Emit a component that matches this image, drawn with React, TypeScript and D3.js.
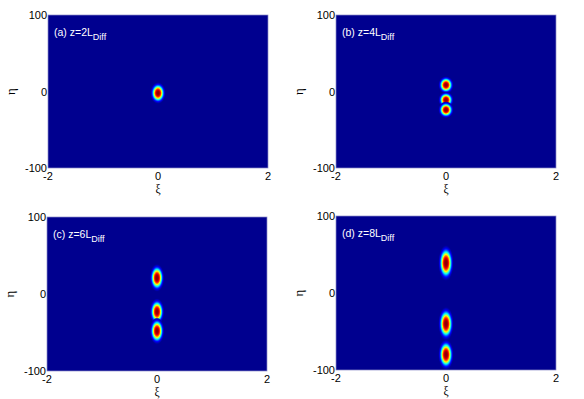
import * as d3 from "d3";

// blob data, one list per panel
const zSteps = [2, 4, 6, 8];
const panelTags = ["(a)", "(b)", "(c)", "(d)"];
const blobEta = [[-2], [8.5, -11, -24], [21, -23, -48], [39, -40, -80]];
const blobXi = [[0], [0, 0, 0], [0, 0, 0], [0, 0, 0]];
const blobHalfXi = [[0.11], [0.11, 0.11, 0.11], [0.105, 0.105, 0.105], [0.11, 0.11, 0.11]];
const blobHalfEta = [[11], [9, 8.5, 8.5], [14, 13.5, 13.5], [18, 17, 15.5]];
const xTicks = [-2, 0, 2];
const yTicks = [-100, 0, 100];

const frames = [
  { x0: 48, x1: 268, y0: 15, y1: 168 },
  { x0: 336, x1: 556, y0: 15, y1: 168 },
  { x0: 47, x1: 267, y0: 217, y1: 371 },
  { x0: 336, x1: 556, y0: 216, y1: 370 },
];

// matlab-like jet
const jet = (v: number) => {
  const x = 1 / 64 + v * (62 / 64);
  const c = (t: number) => Math.max(0, Math.min(1, 1.5 - Math.abs(4 * x - t)));
  return d3.rgb(c(3) * 255, c(2) * 255, c(1) * 255).formatHex();
};

const profile = (r: number) => Math.exp(-4.2 * Math.pow(r, 3));
const stops = d3.range(0, 1.0001, 0.04).map((r) => ({ off: r, v: profile(r) }));

const Panel = ({ i }: { i: number }) => {
  const f = frames[i];
  const x = d3.scaleLinear().domain([-2, 2]).range([f.x0, f.x1]);
  const y = d3.scaleLinear().domain([-100, 100]).range([f.y1, f.y0]);
  const font = "'Liberation Sans', Arial, sans-serif";
  return (
    <g>
      <rect x={f.x0} y={f.y0} width={f.x1 - f.x0} height={f.y1 - f.y0} fill="#00008F" />
      {blobEta[i].map((eta, k) => {
        const rx = (x(blobHalfXi[i][k]) - x(0)) * 1.28;
        const ry = (y(0) - y(blobHalfEta[i][k])) * 1.28;
        return (
          <ellipse key={k} cx={x(blobXi[i][k])} cy={y(eta)} rx={rx} ry={ry} fill="url(#blob)" />
        );
      })}
      <rect x={f.x0} y={f.y0} width={f.x1 - f.x0} height={f.y1 - f.y0} fill="none" stroke="#8c8cc8" strokeWidth={0.7} />
      <text x={f.x0 + 6} y={f.y0 + 21} fill="#fff" fontFamily={font} fontSize={10.5}>
        {panelTags[i]} z={zSteps[i]}L
        <tspan dy={4} fontSize={9}>Diff</tspan>
      </text>
      {yTicks.map((t) => (
        <text key={t} x={f.x0 - 1} y={y(t) + 4} textAnchor="end" fontFamily={font} fontSize={11} fill="#000">
          {t}
        </text>
      ))}
      {xTicks.map((t) => (
        <text key={t} x={x(t)} y={f.y1 + 12} textAnchor="middle" fontFamily={font} fontSize={11} fill="#000">
          {t}
        </text>
      ))}
      <text
        transform={`translate(${f.x0 - 33},${(f.y0 + f.y1) / 2}) rotate(-90)`}
        textAnchor="middle"
        fontFamily="'Liberation Serif', serif"
        fontSize={13}
        fill="#000"
      >
        η
      </text>
      <text x={x(0)} y={f.y1 + 25} textAnchor="middle" fontFamily="'Liberation Serif', serif" fontSize={11.5} fill="#000">
        ξ
      </text>
    </g>
  );
};

export default function App() {
  return (
    <svg width={584} height={399} style={{ position: "absolute", left: 0, top: 0 }}>
      <rect width={584} height={399} fill="#fff" />
      <defs>
        <radialGradient id="blob">
          {stops.map((s, k) => (
            <stop
              key={k}
              offset={s.off}
              stopColor={jet(s.v)}
              stopOpacity={Math.min(1, s.v / 0.04)}
            />
          ))}
        </radialGradient>
      </defs>
      {frames.map((_, i) => (
        <Panel key={i} i={i} />
      ))}
    </svg>
  );
}
